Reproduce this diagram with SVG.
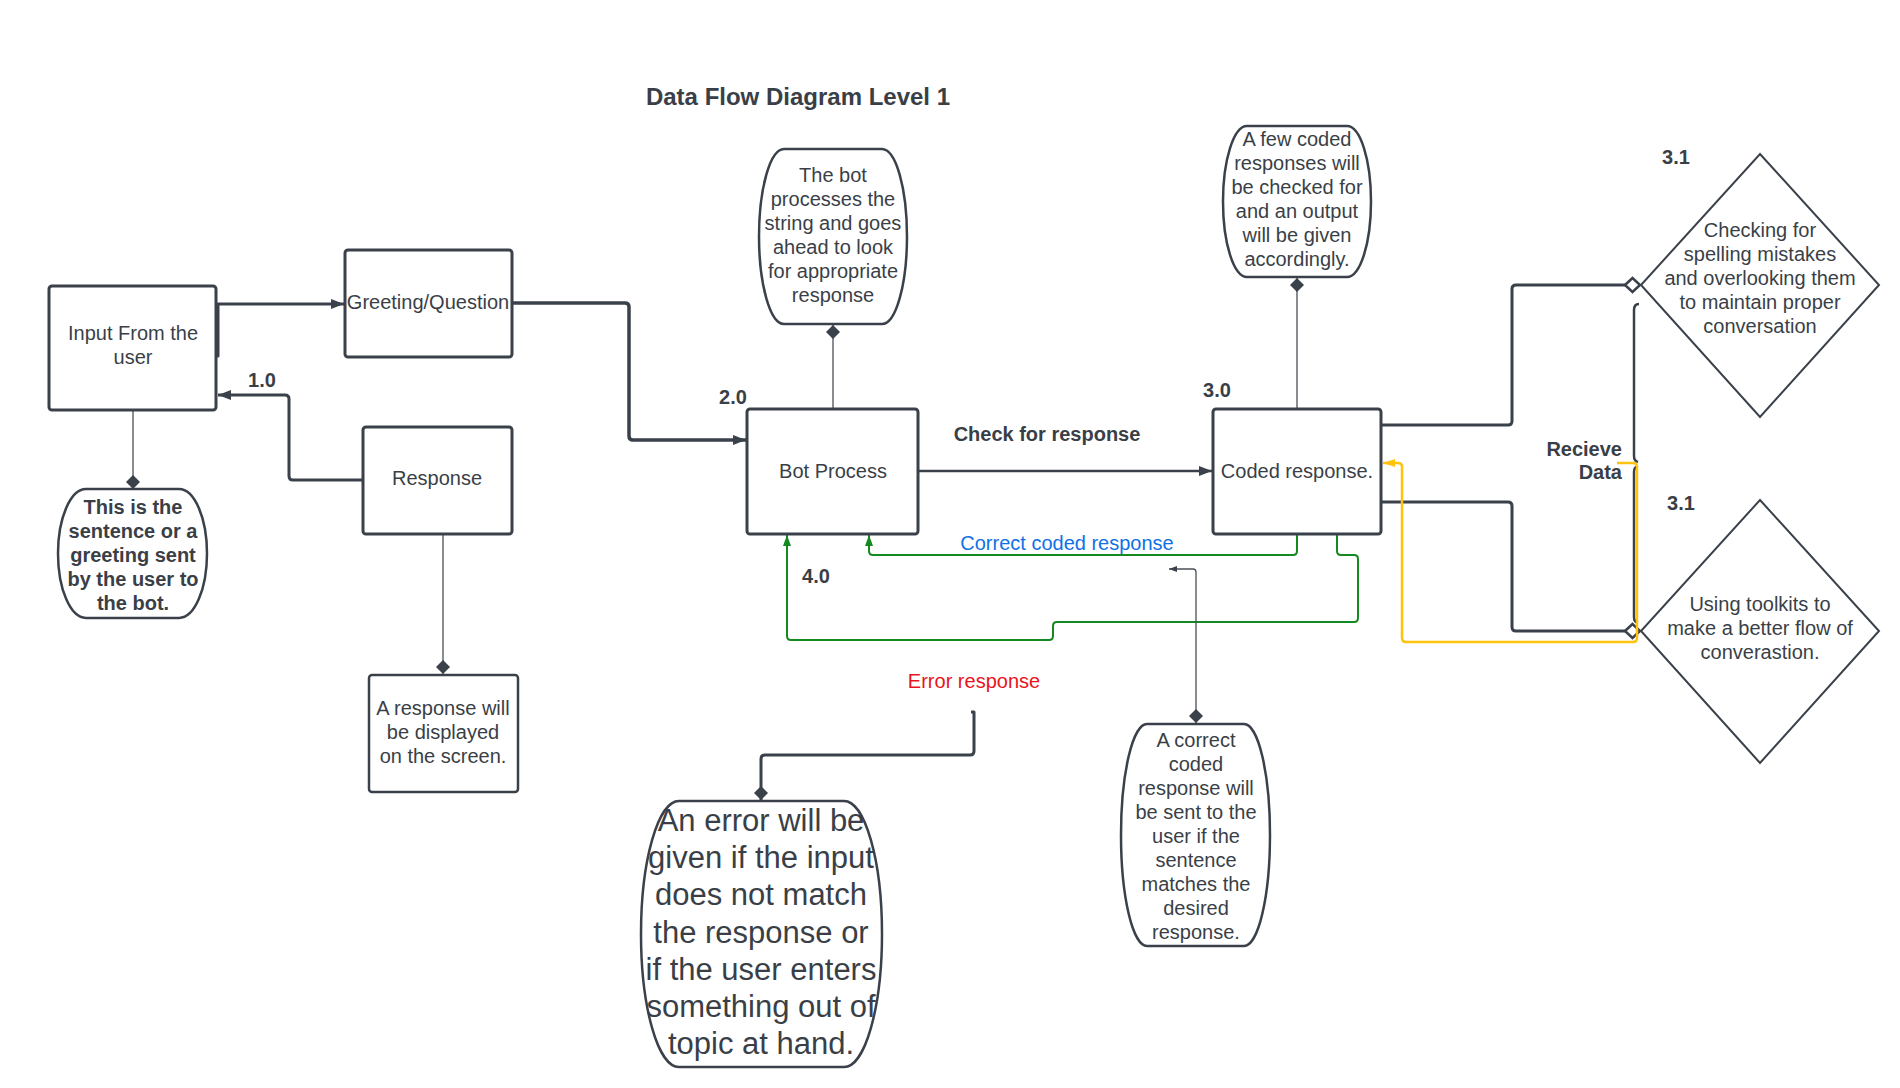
<svg xmlns="http://www.w3.org/2000/svg" width="1900" height="1088" viewBox="0 0 1900 1088">
<style>
.bg{fill:#ffffff}
.box{fill:#ffffff;stroke:#3a414a;stroke-width:3}
.note{fill:#ffffff;stroke:#3a414a;stroke-width:2.5}
.dia{fill:#ffffff;stroke:#3a414a;stroke-width:2}
.t{font-family:"Liberation Sans",Arial,sans-serif;font-size:20px;fill:#3a3f47;text-anchor:middle}
.b{font-weight:bold}
.r{text-anchor:end}
.c{fill:none;stroke:#3a414a;stroke-width:3;stroke-linejoin:round}
.thin{fill:none;stroke:#4a4f57;stroke-width:1.3}
.g{fill:none;stroke:#14891f;stroke-width:2}
.y{fill:none;stroke:#ffc20e;stroke-width:2.5}
</style>
<defs>
<marker id="ar" markerUnits="userSpaceOnUse" markerWidth="14" markerHeight="12" refX="13" refY="6" orient="auto"><path d="M0,1 L13,6 L0,11 Z" fill="#3a414a"/></marker>
<marker id="arg" markerUnits="userSpaceOnUse" markerWidth="12" markerHeight="12" refX="11" refY="5" orient="auto"><path d="M0,1 L11,5 L0,9 Z" fill="#14891f"/></marker>
<marker id="ary" markerUnits="userSpaceOnUse" markerWidth="14" markerHeight="12" refX="12" refY="5" orient="auto"><path d="M0,1 L12,5 L0,9 Z" fill="#ffc20e"/></marker>
<marker id="ars" markerUnits="userSpaceOnUse" markerWidth="10" markerHeight="8" refX="8" refY="4" orient="auto"><path d="M0,1 L8,4 L0,7 Z" fill="#3a414a"/></marker>
<marker id="df" markerUnits="userSpaceOnUse" markerWidth="16" markerHeight="16" refX="15" refY="7" orient="auto-start-reverse"><path d="M1,7 L8,0 L15,7 L8,14 Z" fill="#3a414a"/></marker>
<marker id="dh" markerUnits="userSpaceOnUse" markerWidth="20" markerHeight="20" refX="17" refY="9" orient="auto"><path d="M2,9 L9.5,2 L17,9 L9.5,16 Z" fill="#ffffff" stroke="#3a414a" stroke-width="2.5"/></marker>
</defs>
<rect class="bg" x="0" y="0" width="1900" height="1088"/>
<text class="t b" x="798" y="105" style="font-size:24px">Data Flow Diagram Level 1</text>

<g id="connectors">
<path class="c" d="M216 356 H218 V304 H344" marker-end="url(#ar)"/>
<path class="c" d="M363 480 H293 Q289 480 289 476 V399 Q289 395 285 395 H218" marker-end="url(#ar)"/>
<path class="c" d="M512 303 H625 Q629 303 629 307 V436 Q629 440 633 440 H746" marker-end="url(#ar)" style="stroke-width:3.5"/>
<path class="c" d="M918 471 H1212" marker-end="url(#ar)" style="stroke-width:2.5"/>
<path class="c" d="M1381 425 H1508 Q1512 425 1512 421 V289 Q1512 285 1516 285 H1640" marker-end="url(#dh)"/>
<path class="c" d="M1381 502 H1508 Q1512 502 1512 506 V627 Q1512 631 1516 631 H1640" marker-end="url(#dh)"/>
<path class="c" d="M1639 304 Q1634 304 1634 310 V456 Q1634 461 1638 462 M1638 466 Q1634 467 1634 472 V617 Q1634 622 1638 623" style="stroke-width:2.5"/>
<path class="y" d="M1617 463 H1633 Q1637 463 1637 467 V638 Q1637 642 1633 642 H1406 Q1402 642 1402 638 V467 Q1402 463 1398 463 H1383" marker-end="url(#ary)"/>
<path class="g" d="M1297 534 V551 Q1297 555 1293 555 H873 Q869 555 869 551 V535" marker-end="url(#arg)"/>
<path class="g" d="M1337 534 V551 Q1337 555 1341 555 H1354 Q1358 555 1358 559 V618 Q1358 622 1354 622 H1057 Q1053 622 1053 626 V636 Q1053 640 1049 640 H791 Q787 640 787 636 V535" marker-end="url(#arg)"/>
<path class="c" d="M971 712 H974 V751 Q974 755 970 755 H765 Q761 755 761 759 V800" marker-end="url(#df)"/>
<path class="thin" d="M133 410 V489" marker-end="url(#df)"/>
<path class="thin" d="M833 409 V325" marker-end="url(#df)"/>
<path class="thin" d="M1297 409 V278" marker-end="url(#df)"/>
<path class="thin" d="M443 534 V674" marker-end="url(#df)"/>
<path class="thin" d="M1196 723 V572 Q1196 569 1193 569 H1169" marker-start="url(#df)" marker-end="url(#ars)"/>
</g>

<g id="input">
<rect class="box" x="49" y="286" width="167" height="124" rx="3"/>
<text class="t" x="133" y="340">Input From the</text>
<text class="t" x="133" y="364">user</text>
</g>
<g id="label-1-0"><text class="t b" x="262" y="387">1.0</text></g>
<g id="greeting">
<rect class="box" x="345" y="250" width="167" height="107" rx="3"/>
<text class="t" x="428" y="309">Greeting/Question</text>
</g>
<g id="response">
<rect class="box" x="363" y="427" width="149" height="107" rx="3"/>
<text class="t" x="437" y="485">Response</text>
</g>
<g id="note-input">
<path class="note" d="M86 489 H179 A28 64.5 0 0 1 179 618 H86 A28 64.5 0 0 1 86 489 Z"/>
<text class="t b" x="133" y="514">This is the</text>
<text class="t b" x="133" y="538">sentence or a</text>
<text class="t b" x="133" y="562">greeting sent</text>
<text class="t b" x="133" y="586">by the user to</text>
<text class="t b" x="133" y="610">the bot.</text>
</g>
<g id="note-response">
<rect class="note" x="369" y="675" width="149" height="117" rx="3"/>
<text class="t" x="443" y="715">A response will</text>
<text class="t" x="443" y="739">be displayed</text>
<text class="t" x="443" y="763">on the screen.</text>
</g>
<g id="note-bot">
<path class="note" d="M784 149 H882 A25 87.5 0 0 1 882 324 H784 A25 87.5 0 0 1 784 149 Z"/>
<text class="t" x="833" y="182">The bot</text>
<text class="t" x="833" y="206">processes the</text>
<text class="t" x="833" y="230">string and goes</text>
<text class="t" x="833" y="254">ahead to look</text>
<text class="t" x="833" y="278">for appropriate</text>
<text class="t" x="833" y="302">response</text>
</g>
<g id="label-2-0"><text class="t b" x="733" y="404">2.0</text></g>
<g id="bot">
<rect class="box" x="747" y="409" width="171" height="125" rx="3"/>
<text class="t" x="833" y="478">Bot Process</text>
</g>
<g id="label-check"><text class="t b" x="1047" y="441">Check for response</text></g>
<g id="label-3-0"><text class="t b" x="1217" y="397">3.0</text></g>
<g id="coded">
<rect class="box" x="1213" y="409" width="168" height="125" rx="3"/>
<text class="t" x="1297" y="478">Coded response.</text>
</g>
<g id="note-coded">
<path class="note" d="M1247 126 H1347 A24 75.5 0 0 1 1347 277 H1247 A24 75.5 0 0 1 1247 126 Z"/>
<text class="t" x="1297" y="146">A few coded</text>
<text class="t" x="1297" y="170">responses will</text>
<text class="t" x="1297" y="194">be checked for</text>
<text class="t" x="1297" y="218">and an output</text>
<text class="t" x="1297" y="242">will be given</text>
<text class="t" x="1297" y="266">accordingly.</text>
</g>
<g id="label-correct"><text class="t" x="1067" y="550" style="fill:#1071e5">Correct coded response</text></g>
<g id="label-4-0"><text class="t b" x="816" y="583">4.0</text></g>
<g id="label-error"><text class="t" x="974" y="688" style="fill:#e8141c">Error response</text></g>
<g id="note-error">
<path class="note" d="M679 801 H844 A38 133 0 0 1 844 1067 H679 A38 133 0 0 1 679 801 Z"/>
<g class="t" style="font-size:31px">
<text x="761" y="831">An error will be</text>
<text x="761" y="868">given if the input</text>
<text x="761" y="905">does not match</text>
<text x="761" y="943">the response or</text>
<text x="761" y="980">if the user enters</text>
<text x="761" y="1017">something out of</text>
<text x="761" y="1054">topic at hand.</text>
</g>
</g>
<g id="note-correct">
<path class="note" d="M1147 724 H1244 A26 111 0 0 1 1244 946 H1147 A26 111 0 0 1 1147 724 Z"/>
<text class="t" x="1196" y="747">A correct</text>
<text class="t" x="1196" y="771">coded</text>
<text class="t" x="1196" y="795">response will</text>
<text class="t" x="1196" y="819">be sent to the</text>
<text class="t" x="1196" y="843">user if the</text>
<text class="t" x="1196" y="867">sentence</text>
<text class="t" x="1196" y="891">matches the</text>
<text class="t" x="1196" y="915">desired</text>
<text class="t" x="1196" y="939">response.</text>
</g>
<g id="label-recieve">
<text class="t b r" x="1622" y="456">Recieve</text>
<text class="t b r" x="1622" y="479">Data</text>
</g>
<g id="label-3-1a"><text class="t b" x="1676" y="164">3.1</text></g>
<g id="spelling">
<polygon class="dia" points="1760,154 1879,285 1760,417 1641,285"/>
<text class="t" x="1760" y="237">Checking for</text>
<text class="t" x="1760" y="261">spelling mistakes</text>
<text class="t" x="1760" y="285">and overlooking them</text>
<text class="t" x="1760" y="309">to maintain proper</text>
<text class="t" x="1760" y="333">conversation</text>
</g>
<g id="label-3-1b"><text class="t b" x="1681" y="510">3.1</text></g>
<g id="toolkits">
<polygon class="dia" points="1760,500 1879,631 1760,763 1641,631"/>
<text class="t" x="1760" y="611">Using toolkits to</text>
<text class="t" x="1760" y="635">make a better flow of</text>
<text class="t" x="1760" y="659">converastion.</text>
</g>
</svg>
